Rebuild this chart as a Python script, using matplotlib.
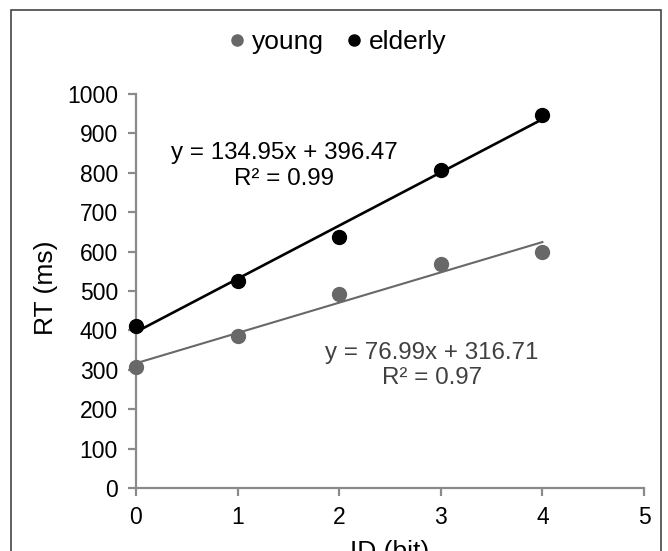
import matplotlib
matplotlib.use("Agg")
import matplotlib.pyplot as plt
import numpy as np
from matplotlib.patches import Rectangle

plt.rcParams['font.family'] = ['Liberation Sans', 'DejaVu Sans']

id_bits = [0, 1, 2, 3, 4]
young_rt = [307, 385, 492, 568, 600]
elderly_rt = [412, 526, 638, 808, 946]
young_eq = "y = 76.99x + 316.71\nR² = 0.97"
elderly_eq = "y = 134.95x + 396.47\nR² = 0.99"
x_ticks = [0, 1, 2, 3, 4, 5]
y_ticks = list(range(0, 1001, 100))

young_color = '#686868'
elderly_color = '#000000'
spine_color = '#8a8a8a'

W, H = 668, 551
fig = plt.figure(figsize=(W / 100, H / 100), dpi=100)
fig.patches.append(Rectangle((11 / W, -0.1), (661 - 11) / W, 1.1 - 10 / H,
                             transform=fig.transFigure, fill=False,
                             edgecolor='#444444', linewidth=1.2))
ax = fig.add_axes([136 / W, 63 / H, 508 / W, 394 / H])

x = np.array(id_bits)
for ys, col, lw, lab in [(young_rt, young_color, 1.5, 'young'),
                         (elderly_rt, elderly_color, 1.9, 'elderly')]:
    k, b = np.polyfit(x, ys, 1)
    ax.plot(x, k * x + b, color=col, lw=lw, zorder=2)
    ax.plot(x, ys, 'o', color=col, ms=10, zorder=3, label=lab, clip_on=False)

ax.set_xlim(0, 5)
ax.set_ylim(0, 1000)
ax.set_xticks(x_ticks)
ax.set_yticks(y_ticks)
for s in ['top', 'right']:
    ax.spines[s].set_visible(False)
for s in ['left', 'bottom']:
    ax.spines[s].set_color(spine_color)
    ax.spines[s].set_linewidth(1.6)
ax.tick_params(axis='both', color=spine_color, width=1.6, length=6,
               labelsize=16.5, labelcolor='black', pad=7)

fig.text(46 / W, 1 - 288 / H, 'RT (ms)', rotation=90, ha='center',
         va='center', fontsize=19)
fig.text(390 / W, 1 - 559 / H, 'ID (bit)', ha='center', va='baseline',
         fontsize=19)

fig.text(284 / W, 1 - 166 / H, elderly_eq, ha='center', va='center',
         fontsize=17.4, linespacing=1.2, color='black')
fig.text(432 / W, 1 - 365.5 / H, young_eq, ha='center', va='center',
         fontsize=17.4, linespacing=1.2, color='#404040')

fig.legend(loc='center', bbox_to_anchor=(338 / W, 1 - 42 / H), ncol=2,
           frameon=False, fontsize=19, handletextpad=0.27,
           columnspacing=0.83, markerscale=0.8, handlelength=0.6,
           borderpad=0, borderaxespad=0)

fig.savefig('out.png', dpi=100)
